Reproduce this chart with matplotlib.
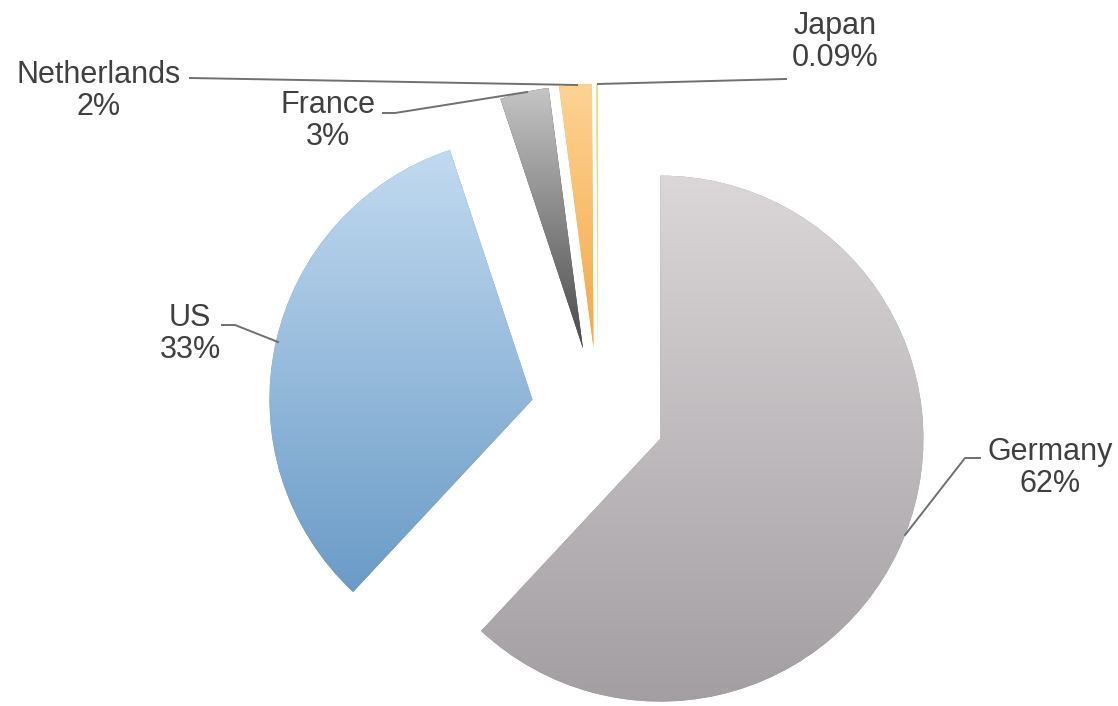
import matplotlib.pyplot as plt
import numpy as np
from matplotlib.colors import to_rgb

plt.rcParams['font.family'] = ['Liberation Sans', 'DejaVu Sans']

# data
countries = ["Germany", "US", "France", "Netherlands", "Japan"]
shares = [62, 33, 3, 2, 0.09]
share_labels = ["62%", "33%", "3%", "2%", "0.09%"]
top_colors = ["#dbd7d9", "#c2daf0", "#c4c4c4", "#fdd394", "#e3ea8e"]
bottom_colors = ["#a39ea1", "#6a9bc7", "#4a4a4a", "#f5a847", "#c9d25a"]

# layout in pixels (y downwards), pie centre and radius
W, H = 1118, 706
CX, CY, R = 598, 414, 263


def px(x, y):
    # pixel position -> data units (radius = 1)
    return (x - CX) / R, (CY - y) / R


fig = plt.figure(figsize=(W / 100, H / 100), dpi=100)
ax = fig.add_axes([0, 0, 1, 1])

wedges, _ = ax.pie(shares, startangle=90, counterclock=False,
                   explode=[0.255] * len(shares),
                   wedgeprops=dict(linewidth=0))

# vertical gradient inside each slice
for w, c_top, c_bot in zip(wedges, top_colors, bottom_colors):
    v = w.get_path().vertices
    t = np.linspace(0, 1, 256)[:, None]
    grad = (1 - t) * np.array(to_rgb(c_top)) + t * np.array(to_rgb(c_bot))
    w.set_facecolor(c_bot)
    im = ax.imshow(grad[:, None, :], extent=(v[:, 0].min(), v[:, 0].max(),
                                            v[:, 1].min(), v[:, 1].max()),
                   aspect='auto', zorder=2, interpolation='bilinear')
    im.set_clip_path(w)

ax.set_xlim(-CX / R, (W - CX) / R)
ax.set_ylim(-(H - CY) / R, CY / R)
ax.set_aspect('auto')
ax.axis('off')

# labels and leader lines (pixel positions)
label_pos = {
    "Germany": (1050, 468),
    "US": (190, 334),
    "France": (328, 121),
    "Netherlands": (99, 91),
    "Japan": (835, 42),
}
leaders = {
    "Germany": [(980, 458), (965, 458), (905, 535)],
    "US": [(222, 325), (235, 325), (278, 342)],
    "France": [(383, 113), (395, 113), (527, 92)],
    "Netherlands": [(190, 78), (577, 85)],
    "Japan": [(786, 79), (598, 84)],
}

for name, lab in zip(countries, share_labels):
    x, y = px(*label_pos[name])
    ax.text(x, y, f"{name}\n{lab}", ha='center', va='center', fontsize=22,
            color='#404040', linespacing=1.1, zorder=5)
    pts = np.array([px(*p) for p in leaders[name]])
    ax.plot(pts[:, 0], pts[:, 1], color='#707070', lw=1.4, zorder=4)

plt.savefig("out.png", dpi=100)
